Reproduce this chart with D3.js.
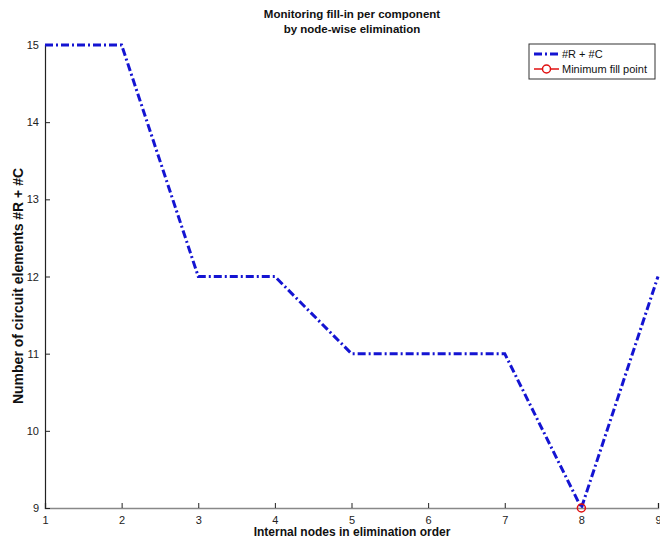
<!DOCTYPE html>
<html>
<head>
<meta charset="utf-8">
<script src="https://cdn.jsdelivr.net/npm/d3@7"></script>
<style>
  body { margin: 0; background: #fff; }
  svg { display: block; font-family: "Liberation Sans", Arial, sans-serif; }
</style>
</head>
<body>
<svg id="chart" width="660" height="542"></svg>
<script>
// Elimination step (x) and resulting element count #R + #C (y)
const steps = [1, 2, 3, 4, 5, 6, 7, 8, 9];
const counts = [15, 15, 12, 12, 11, 11, 11, 9, 12];
const minPoint = [8, 9];
const xTicks = [1, 2, 3, 4, 5, 6, 7, 8, 9];
const yTicks = [9, 10, 11, 12, 13, 14, 15];

const svg = d3.select("#chart");
const plotLeft = 45, plotRight = 658, plotTop = 45, plotBottom = 508;

const x = d3.scaleLinear().domain([1, 9]).range([plotLeft, plotRight]);
const y = d3.scaleLinear().domain([9, 15]).range([plotBottom, plotTop]);

// Axes with inward ticks
const xAxis = d3.axisBottom(x).tickValues(xTicks).tickSize(-5).tickPadding(8).tickFormat(d3.format("d"));
const yAxis = d3.axisLeft(y).tickValues(yTicks).tickSize(-5).tickPadding(6).tickFormat(d3.format("d"));

const gx = svg.append("g").attr("transform", `translate(0,${plotBottom})`).call(xAxis);
const gy = svg.append("g").attr("transform", `translate(${plotLeft},0)`).call(yAxis);
gx.select(".domain").attr("stroke", "#888").attr("stroke-width", 1.5);
gy.select(".domain").attr("stroke", "#222").attr("stroke-width", 1.2);
[gx, gy].forEach(g => {
  g.selectAll(".tick line").attr("stroke", "#222");
  g.selectAll(".tick text").attr("font-size", 11).attr("fill", "#222");
});
// keep the last x tick label inside the page edge
gx.selectAll(".tick text").filter(d => d === xTicks[xTicks.length - 1]).attr("text-anchor", "end").attr("dx", 3);

// Series line
const line = d3.line().x((d, i) => x(steps[i])).y(d => y(d));
svg.append("path")
  .datum(counts)
  .attr("d", line)
  .attr("fill", "none")
  .attr("stroke", "#1414d2")
  .attr("stroke-width", 3)
  .attr("stroke-dasharray", "8,3,2,3");

// Minimum fill marker
svg.append("circle")
  .attr("cx", x(minPoint[0])).attr("cy", y(minPoint[1]))
  .attr("r", 4).attr("fill", "none").attr("stroke", "#e01010").attr("stroke-width", 1.5);

// Titles
const title = svg.append("text").attr("text-anchor", "middle").attr("font-weight", "bold")
  .attr("font-size", 11.5).attr("fill", "#111");
title.append("tspan").attr("x", 352).attr("y", 18).text("Monitoring fill-in per component");
title.append("tspan").attr("x", 352).attr("y", 33).text("by node-wise elimination");

svg.append("text").attr("x", 352).attr("y", 536).attr("text-anchor", "middle")
  .attr("font-weight", "bold").attr("font-size", 12).attr("fill", "#111")
  .text("Internal nodes in elimination order");

svg.append("text").attr("transform", "translate(23,286) rotate(-90)").attr("text-anchor", "middle")
  .attr("font-weight", "bold").attr("font-size", 14).attr("fill", "#111")
  .text("Number of circuit elements #R + #C");

// Legend
const lg = svg.append("g").attr("transform", "translate(529,44)");
lg.append("rect").attr("width", 126).attr("height", 35).attr("fill", "#fff").attr("stroke", "#333").attr("stroke-width", 1);
lg.append("line").attr("x1", 5).attr("x2", 30).attr("y1", 10).attr("y2", 10)
  .attr("stroke", "#1414d2").attr("stroke-width", 3).attr("stroke-dasharray", "8,3,2,3");
lg.append("text").attr("x", 33).attr("y", 14).attr("font-size", 11).attr("fill", "#111").text("#R + #C");
lg.append("line").attr("x1", 5).attr("x2", 30).attr("y1", 25).attr("y2", 25)
  .attr("stroke", "#e01010").attr("stroke-width", 1.5);
lg.append("circle").attr("cx", 17.5).attr("cy", 25).attr("r", 4).attr("fill", "#fff")
  .attr("stroke", "#e01010").attr("stroke-width", 1.5);
lg.append("text").attr("x", 33).attr("y", 29).attr("font-size", 11).attr("fill", "#111").text("Minimum fill point");
</script>
</body>
</html>
